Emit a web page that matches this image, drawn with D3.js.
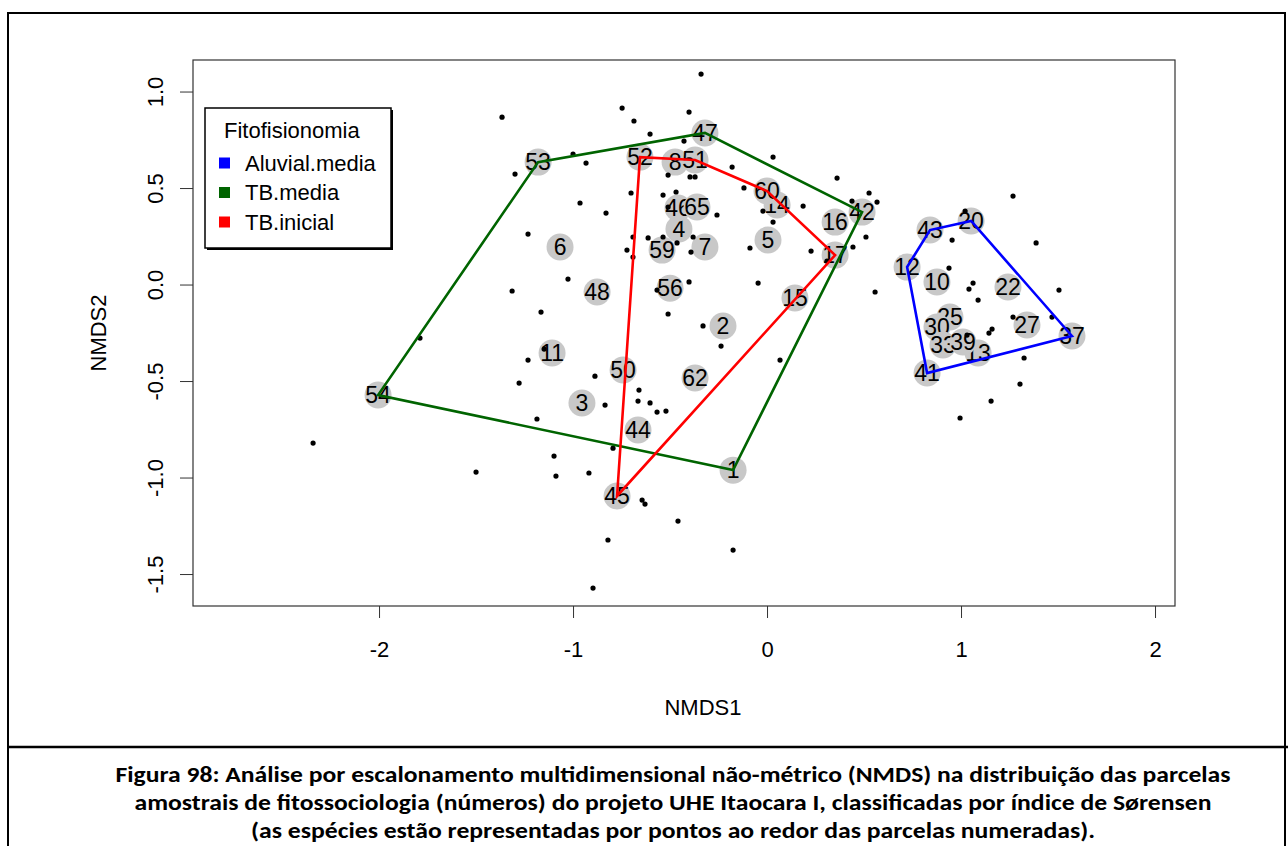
<!DOCTYPE html>
<html>
<head>
<meta charset="utf-8">
<script src="https://cdn.jsdelivr.net/npm/d3@7"></script>
<style>
  body { margin: 0; background: #fff; }
  text { font-family: Arial, 'Liberation Sans', sans-serif; fill: #000; }
  .caption { font-family: Carlito, 'Liberation Sans Narrow', 'Noto Sans', sans-serif; font-weight: bold; }
</style>
</head>
<body>
<svg id="chart" width="1288" height="846"></svg>
<script>
// plot sites (numbered parcels)
const siteLabels = ['1','2','3','4','5','6','7','8','10','11','12','13','14','15','16','17','20','22','25','27',
  '30','33','37','39','41','42','43','44','45','46','47','48','50','51','52','53','54','56','59','60','62','65']
const siteNMDS1 = [-0.175,-0.227,-0.954,-0.454,0.005,-1.067,-0.320,-0.474,0.876,-1.108,0.722,1.088,0.052,0.144,0.351,0.351,1.052,1.242,0.943,1.340,
  0.876,0.907,1.572,1.010,0.825,0.490,0.840,-0.665,-0.773,-0.459,-0.320,-0.876,-0.742,-0.371,-0.655,-1.180,-2.005,-0.500,-0.541,0.000,-0.371,-0.361]
const siteNMDS2 = [-0.959,-0.212,-0.611,0.290,0.233,0.197,0.197,0.637,0.016,-0.352,0.093,-0.352,0.415,-0.067,0.326,0.155,0.332,-0.010,-0.166,-0.207,
  -0.218,-0.311,-0.264,-0.295,-0.456,0.378,0.285,-0.751,-1.093,0.399,0.788,-0.036,-0.440,0.648,0.663,0.637,-0.570,-0.016,0.181,0.487,-0.482,0.404]
const siteGroup = ['TB.media','TB.media','TB.media','TB.inicial','TB.inicial','TB.media','TB.inicial','TB.inicial','Aluvial.media','TB.media',
  'Aluvial.media','Aluvial.media','TB.inicial','TB.media','TB.media','TB.inicial','Aluvial.media','Aluvial.media','Aluvial.media','Aluvial.media',
  'Aluvial.media','Aluvial.media','Aluvial.media','Aluvial.media','Aluvial.media','TB.media','Aluvial.media','TB.inicial','TB.inicial','TB.inicial',
  'TB.media','TB.media','TB.media','TB.inicial','TB.inicial','TB.media','TB.media','TB.inicial','TB.inicial','TB.inicial','TB.media','TB.inicial']

// species scores (black dots)
const speciesNMDS1 = [-0.340,-1.366,-0.747,-0.402,-0.686,-0.603,-0.428,-1.000,-0.933,-1.299,-0.510,-0.397,-0.371,-0.180,0.031,-0.119,
  -0.701,-0.536,-0.469,-0.964,-0.830,-0.258,-1.232,-0.691,-0.613,-0.536,-0.464,-0.381,-0.510,0.361,0.438,0.526,0.567,0.186,-0.021,0.031,
  0.510,-0.088,0.227,0.309,0.443,-0.722,-0.691,-0.392,-0.402,-0.567,-0.046,-0.510,-0.330,-0.237,0.067,0.557,1.268,1.021,0.954,1.387,
  0.938,1.062,1.041,1.088,1.505,1.268,1.469,1.160,1.144,1.031,1.325,1.304,1.155,0.995,-1.314,-1.026,-1.165,-1.789,-1.149,-1.232,
  -0.887,-1.278,-0.835,-1.186,-0.660,-0.665,-0.603,-0.567,-0.521,-0.794,-1.098,-1.088,-0.918,-1.500,-0.644,-0.629,-0.459,-0.820,
  -0.175,-0.897,-2.340]
const speciesNMDS2 = [1.093,0.870,0.917,0.896,0.850,0.782,0.746,0.679,0.632,0.575,0.570,0.560,0.560,0.611,0.663,0.503,
  0.477,0.466,0.482,0.425,0.373,0.363,0.264,0.249,0.244,0.249,0.218,0.249,0.404,0.554,0.435,0.477,0.430,0.409,0.383,0.326,
  0.249,0.192,0.176,0.124,0.197,0.181,0.145,0.171,0.016,-0.026,0.010,-0.150,-0.212,-0.316,-0.389,-0.036,0.461,0.383,0.233,0.218,
  0.088,0.010,-0.021,-0.078,-0.026,-0.166,-0.166,-0.228,-0.249,-0.259,-0.378,-0.513,-0.601,-0.689,-0.031,0.031,-0.140,-0.275,-0.332,-0.389,
  -0.472,-0.508,-0.622,-0.694,-0.544,-0.601,-0.611,-0.658,-0.653,-0.845,-0.886,-0.990,-0.974,-0.969,-1.114,-1.135,-1.223,-1.321,
  -1.373,-1.570,-0.819]

const groups = ['Aluvial.media', 'TB.media', 'TB.inicial']
const groupColors = ['#0000ff', '#006400', '#ff0000']
const xTicks = [-2, -1, 0, 1, 2]
const yTicks = [1.0, 0.5, 0.0, -0.5, -1.0, -1.5]

const captionLines = [
  'Figura 98: Análise por escalonamento multidimensional não-métrico (NMDS) na distribuição das parcelas',
  'amostrais de fitossociologia (números) do projeto UHE Itaocara I, classificadas por índice de Sørensen',
  '(as espécies estão representadas por pontos ao redor das parcelas numeradas).'
]

const svg = d3.select('#chart')
const box = { left: 193, right: 1175, top: 60, bottom: 606 }

const x = d3.scaleLinear().domain([-2.959, 2.103]).range([box.left, box.right])
const y = d3.scaleLinear().domain([-1.663, 1.166]).range([box.bottom, box.top])
const color = d3.scaleOrdinal().domain(groups).range(groupColors)

// outer frame of the figure + caption separator
svg.append('rect')
  .attr('x', 8).attr('y', 13).attr('width', 1277).attr('height', 840)
  .attr('fill', 'none').attr('stroke', '#000').attr('stroke-width', 2)
svg.append('line')
  .attr('x1', 8).attr('x2', 1288).attr('y1', 747).attr('y2', 747)
  .attr('stroke', '#000').attr('stroke-width', 2.5)

// x axis
const xAxis = svg.append('g')
  .attr('transform', `translate(0,${box.bottom})`)
  .call(d3.axisBottom(x).tickValues(xTicks).tickFormat(d => String(d)).tickSize(12).tickSizeOuter(0).tickPadding(23))
xAxis.select('.domain').remove()
xAxis.selectAll('line').attr('stroke', '#333')
xAxis.selectAll('text').attr('font-size', 22).attr('font-family', "Arial, 'Liberation Sans', sans-serif").attr('fill', '#000')

// y axis (labels parallel to the axis, like R)
const yAxis = svg.append('g')
yAxis.selectAll('line').data(yTicks).join('line')
  .attr('x1', box.left - 13).attr('x2', box.left)
  .attr('y1', d => y(d)).attr('y2', d => y(d))
  .attr('stroke', '#333')
yAxis.selectAll('text').data(yTicks).join('text')
  .attr('transform', d => `translate(155,${y(d)}) rotate(-90)`)
  .attr('text-anchor', 'middle')
  .attr('dominant-baseline', 'central')
  .attr('font-size', 22)
  .text(d => d.toFixed(1))

// plot box
svg.append('rect')
  .attr('x', box.left).attr('y', box.top)
  .attr('width', box.right - box.left).attr('height', box.bottom - box.top)
  .attr('fill', 'none').attr('stroke', '#333').attr('stroke-width', 1.2)

// axis titles
svg.append('text')
  .attr('x', 703).attr('y', 707)
  .attr('text-anchor', 'middle').attr('dominant-baseline', 'central')
  .attr('font-size', 22).text('NMDS1')
svg.append('text')
  .attr('transform', `translate(98,${(box.top + box.bottom) / 2}) rotate(-90)`)
  .attr('text-anchor', 'middle').attr('dominant-baseline', 'central')
  .attr('font-size', 22).text('NMDS2')

const sites = siteLabels.map((label, i) => ({
  label, x: siteNMDS1[i], y: siteNMDS2[i], group: siteGroup[i]
}))
const species = speciesNMDS1.map((v, i) => ({ x: v, y: speciesNMDS2[i] }))

const plot = svg.append('g')

// site labels: grey discs with the number on top
const siteG = plot.selectAll('.site').data(sites).join('g')
  .attr('class', 'site')
  .attr('transform', d => `translate(${x(d.x)},${y(d.y)})`)
siteG.append('circle').attr('r', 13.5).attr('fill', '#c8c8c8')
siteG.append('text')
  .attr('text-anchor', 'middle').attr('dominant-baseline', 'central')
  .attr('font-size', 23).attr('fill', '#111')
  .text(d => d.label)

// species points
plot.selectAll('.sp').data(species).join('circle')
  .attr('class', 'sp')
  .attr('cx', d => x(d.x)).attr('cy', d => y(d.y))
  .attr('r', 2.6).attr('fill', '#000')

// convex hulls per group
groups.forEach(g => {
  const pts = sites.filter(d => d.group === g).map(d => [x(d.x), y(d.y)])
  const hull = d3.polygonHull(pts)
  plot.append('path')
    .attr('d', 'M' + hull.join('L') + 'Z')
    .attr('fill', 'none')
    .attr('stroke', color(g))
    .attr('stroke-width', 2.6)
    .attr('stroke-linejoin', 'miter')
})

// legend
const legend = svg.append('g')
legend.append('rect')
  .attr('x', 207).attr('y', 110).attr('width', 186).attr('height', 140)
  .attr('fill', '#000')
legend.append('rect')
  .attr('x', 205).attr('y', 108).attr('width', 186).attr('height', 140)
  .attr('fill', '#fff').attr('stroke', '#000').attr('stroke-width', 1.5)
legend.append('text')
  .attr('x', 224).attr('y', 130).attr('dominant-baseline', 'central')
  .attr('font-size', 22).text('Fitofisionomia')
const items = legend.selectAll('.item').data(groups).join('g')
  .attr('class', 'item')
  .attr('transform', (d, i) => `translate(0,${163 + i * 29.5})`)
items.append('rect')
  .attr('x', 219).attr('y', -5.5).attr('width', 11).attr('height', 11)
  .attr('fill', d => color(d))
items.append('text')
  .attr('x', 245).attr('y', 0).attr('dominant-baseline', 'central')
  .attr('font-size', 22).text(d => d)

// caption
const captionWidths = [1115, 1077, 844]
svg.selectAll('.caption').data(captionLines).join('text')
  .attr('class', 'caption')
  .attr('x', 673).attr('y', (d, i) => 774 + i * 28)
  .attr('text-anchor', 'middle').attr('dominant-baseline', 'central')
  .attr('font-size', 22)
  .attr('textLength', (d, i) => captionWidths[i])
  .attr('lengthAdjust', 'spacingAndGlyphs')
  .text(d => d)
</script>
</body>
</html>
